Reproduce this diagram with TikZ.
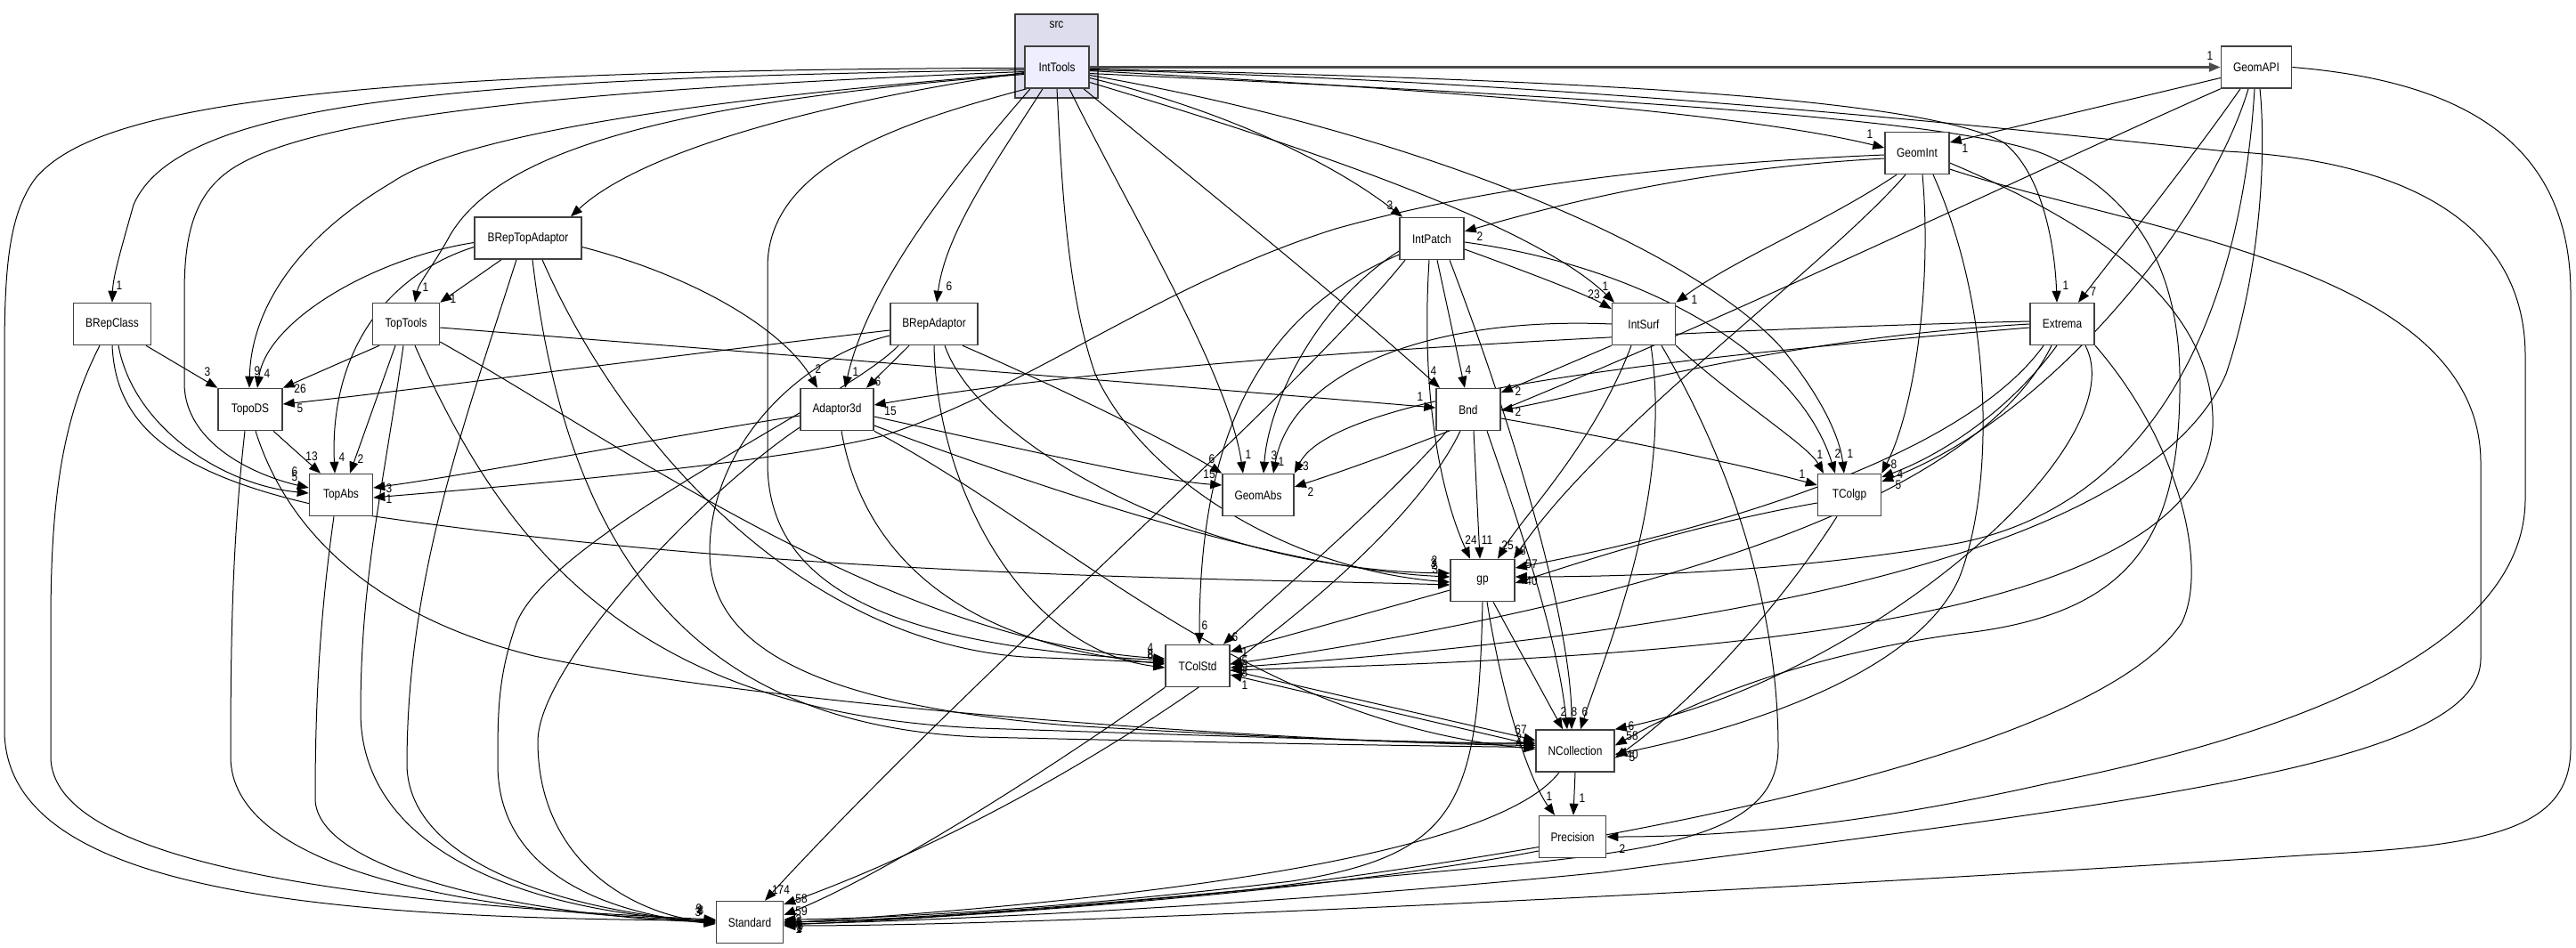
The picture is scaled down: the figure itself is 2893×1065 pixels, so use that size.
\documentclass[tikz,border=0pt]{standalone}
\usepackage{fontspec}
\newfontfamily\doxfam[FakeStretch=0.85]{Liberation Sans}
\usetikzlibrary{arrows.meta}
\pgfdeclarelayer{back}
\pgfdeclarelayer{bg}
\pgfsetlayers{back,bg,main}
\definecolor{boxc}{RGB}{64,64,64}
\definecolor{clusterfill}{RGB}{221,221,238}
\definecolor{itfill}{RGB}{238,238,255}
\tikzset{
 dbox/.style={draw=boxc, line width=1.5pt, fill=white, minimum height=47pt, inner sep=0pt, font=\doxfam\fontsize{14}{16}\selectfont},
 dep/.style={-{Triangle[length=13pt,width=10pt]}, line width=1pt},
 depb/.style={dep, line width=2.6pt, draw=black!70},
 lbl/.style={inner sep=0pt, font=\doxfam\fontsize{14}{16}\selectfont},
}
\begin{document}
\begin{tikzpicture}[x=1pt,y=-1pt]
\useasboundingbox (0,0) rectangle (2893,1065);
% nodes
\node[dbox, fill=itfill, minimum width=72pt] (IntTools) at (1187,75.5) {IntTools};
\node[dbox, minimum width=79pt] (GeomAPI) at (2534,75.5) {GeomAPI};
\node[dbox, minimum width=72pt] (GeomInt) at (2153,172) {GeomInt};
\node[dbox, minimum width=120pt] (BRepTopAdaptor) at (593,267.5) {BRepTopAdaptor};
\node[dbox, minimum width=72pt] (IntPatch) at (1608,268) {IntPatch};
\node[dbox, minimum width=87pt] (BRepClass) at (126,364) {BRepClass};
\node[dbox, minimum width=75pt] (TopTools) at (456,364) {TopTools};
\node[dbox, minimum width=98pt] (BRepAdaptor) at (1049,364) {BRepAdaptor};
\node[dbox, minimum width=71pt] (IntSurf) at (1846,364) {IntSurf};
\node[dbox, minimum width=72pt] (Extrema) at (2316,364) {Extrema};
\node[dbox, minimum width=72pt] (TopoDS) at (281,460) {TopoDS};
\node[dbox, minimum width=82pt] (Adaptor3d) at (940,460) {Adaptor3d};
\node[dbox, minimum width=72pt] (Bnd) at (1649,460) {Bnd};
\node[dbox, minimum width=71pt] (TopAbs) at (383,556) {TopAbs};
\node[dbox, minimum width=80pt] (GeomAbs) at (1413,556) {GeomAbs};
\node[dbox, minimum width=71pt] (TColgp) at (2077,556) {TColgp};
\node[dbox, minimum width=72pt] (gp) at (1665,652) {gp};
\node[dbox, minimum width=72pt] (TColStd) at (1345,748) {TColStd};
\node[dbox, minimum width=88pt] (NCollection) at (1769,843.5) {NCollection};
\node[dbox, minimum width=75pt] (Precision) at (1766,940) {Precision};
\node[dbox, minimum width=75pt] (Standard) at (842,1036) {Standard};
\begin{pgfonlayer}{back}
\fill[white] (0,0) rectangle (2893,1065);
\node[dbox, fill=clusterfill, minimum width=93pt, minimum height=94pt] (src) at (1186.5,63) {};
\node[lbl] (srctext) at (1186.5,28) {src};
\end{pgfonlayer}
\begin{pgfonlayer}{bg}
% ---- IntTools
\draw[depb] (IntTools.east) -- (GeomAPI.west) node[lbl] at (2482,63) {1};
\draw[dep] ([yshift=-4]IntTools.east) .. controls (1600,100) and (1950,125) .. ([yshift=6]GeomInt.west) node[lbl] at (2100,151) {1};
\draw[dep] ([yshift=-12]IntTools.east) .. controls (1380,125) and (1500,185) .. ([xshift=-33]IntPatch.north) node[lbl] at (1561,231) {3};
\draw[dep] ([yshift=-17]IntTools.east) .. controls (1450,160) and (1720,250) .. ([xshift=-33]IntSurf.north) node[lbl] at (1803,322) {1};
\draw[dep] ([yshift=-2]IntTools.east) .. controls (1700,88) and (2150,105) .. (2250,160) .. controls (2295,195) and (2308,280) .. ([xshift=-6]Extrema.north) node[lbl] at (2320,321) {1};
\draw[dep] ([xshift=30]IntTools.south) .. controls (1350,210) and (1500,330) .. ([xshift=-32]Bnd.north) node[lbl] at (1610,417) {4};
\draw[dep] ([xshift=-16]IntTools.south) .. controls (1120,180) and (1062,260) .. ([xshift=3]BRepAdaptor.north) node[lbl] at (1066,322) {6};
\draw[dep] ([xshift=-30]IntTools.south) .. controls (1070,200) and (975,320) .. ([xshift=9]Adaptor3d.north) node[lbl] at (961,418) {1};
\draw[dep] ([yshift=-6]IntTools.west) .. controls (920,115) and (720,170) .. ([xshift=48]BRepTopAdaptor.north);
\draw[dep] ([yshift=-8]IntTools.west) .. controls (750,115) and (560,170) .. (505,265) .. controls (487,298) and (470,318) .. ([xshift=10]TopTools.north) node[lbl] at (478,323) {1};
\draw[dep] ([yshift=-3]IntTools.west) .. controls (500,88) and (200,115) .. (150,230) .. controls (136,280) and (127,310) .. (BRepClass.north) node[lbl] at (134,321) {1};
\draw[dep] ([yshift=-1]IntTools.west) .. controls (300,78) and (100,130) .. (40,200) .. controls (10,240) and (5,300) .. (5,400) -- (5,820) .. controls (5,1000) and (350,1032) .. ([yshift=2]Standard.west) node[lbl] at (785,1021) {9};
\draw[dep] ([yshift=-5]IntTools.west) .. controls (650,100) and (350,130) .. (260,190) .. controls (215,220) and (207,270) .. (207,330) -- (207,430) .. controls (207,500) and (290,535) .. ([yshift=8]TopAbs.west) node[lbl] at (331,530) {6};
\draw[dep] ([yshift=-7]IntTools.west) .. controls (800,110) and (520,150) .. (440,205) .. controls (330,270) and (282,350) .. ([xshift=-1]TopoDS.north) node[lbl] at (289,417) {9};
\draw[dep] ([xshift=-34]IntTools.south) .. controls (1000,140) and (862,190) .. (862,300) -- (862,520) .. controls (862,660) and (1000,725) .. ([yshift=6]TColStd.west) node[lbl] at (1292,728) {4};
\draw[dep] (IntTools.south) .. controls (1192,200) and (1198,330) .. (1230,420) .. controls (1285,540) and (1450,640) .. ([yshift=-2]gp.west) node[lbl] at (1611,635) {2};
\draw[dep] ([xshift=14]IntTools.south) .. controls (1270,240) and (1380,420) .. ([xshift=-17]GeomAbs.north) node[lbl] at (1402,511) {1};
\draw[dep] ([yshift=-9]IntTools.east) .. controls (1600,150) and (1900,280) .. (2000,390) .. controls (2045,445) and (2066,490) .. ([xshift=-6]TColgp.north) node[lbl] at (2078,510) {1};
\draw[dep] ([yshift=-7]IntTools.east) .. controls (1700,105) and (2200,130) .. (2300,175) .. controls (2420,230) and (2446,330) .. (2448,420) .. controls (2450,600) and (2400,690) .. (2200,712) .. controls (2000,740) and (1880,800) .. ([yshift=6]NCollection.east) node[lbl] at (1833,827) {58};
\draw[dep] ([yshift=-3]IntTools.east) .. controls (1800,92) and (2300,150) .. (2500,170) .. controls (2700,180) and (2836,250) .. (2836,400) -- (2836,560) .. controls (2836,720) and (2600,820) .. (2300,880) .. controls (2100,925) and (1950,940) .. (Precision.east) node[lbl] at (1822,954) {2};
% ---- GeomAPI
\draw[dep] ([yshift=-12]GeomAPI.west) -- ([yshift=12]GeomInt.east) node[lbl] at (2207,167) {1};
\draw[dep] ([xshift=-18]GeomAPI.south) .. controls (2460,180) and (2380,280) .. ([xshift=18]Extrema.north) node[lbl] at (2351,328) {7};
\draw[dep] (GeomAPI.south west) .. controls (2200,230) and (1750,450) .. ([yshift=9]GeomAbs.east) node[lbl] at (1472,553) {2};
\draw[dep] ([xshift=-9]GeomAPI.south) .. controls (2480,250) and (2300,470) .. ([yshift=15]TColgp.east) node[lbl] at (2132,545) {5};
\draw[dep] ([xshift=-2]GeomAPI.south) .. controls (2520,300) and (2450,560) .. (2200,610) .. controls (2000,645) and (1800,648) .. ([yshift=4]gp.east);
\draw[dep] ([xshift=4]GeomAPI.south) .. controls (2545,170) and (2540,300) .. (2500,420) .. controls (2400,650) and (1800,720) .. ([yshift=-2]TColStd.east) node[lbl] at (1398,750) {9};
\draw[dep] (GeomAPI.east) .. controls (2750,90) and (2887,150) .. (2887,330) -- (2887,840) .. controls (2887,930) and (2800,950) .. (2600,960) .. controls (2000,1000) and (1200,1040) .. ([yshift=-4]Standard.east) node[lbl] at (897,1044) {1};
% ---- GeomInt
\draw[dep] ([yshift=-6]GeomInt.west) .. controls (1900,190) and (1750,230) .. ([yshift=8]IntPatch.east) node[lbl] at (1662,266) {2};
\draw[dep] ([yshift=-2]GeomInt.west) .. controls (1850,185) and (1650,215) .. (1500,257) .. controls (1300,320) and (1150,440) .. (990,490) .. controls (850,525) and (500,552) .. ([yshift=-3]TopAbs.east) node[lbl] at (437,561) {1};
\draw[dep] ([xshift=-23]GeomInt.south) .. controls (2050,250) and (1950,290) .. (IntSurf.north east) node[lbl] at (1903,337) {1};
\draw[dep] ([xshift=-13]GeomInt.south) .. controls (2050,300) and (1800,480) .. ([xshift=35]gp.north) node[lbl] at (1707,619) {18};
\draw[dep] ([xshift=6]GeomInt.south) .. controls (2170,320) and (2150,460) .. (TColgp.north east) node[lbl] at (2127,522) {8};
\draw[dep] ([xshift=18]GeomInt.south) .. controls (2240,350) and (2240,550) .. (2200,650) .. controls (2150,760) and (1950,820) .. ([yshift=-4]NCollection.east) node[lbl] at (1833,848) {40};
\draw[dep] ([yshift=-11]GeomInt.east) .. controls (2300,230) and (2490,320) .. (2485,480) .. controls (2470,720) and (1800,740) .. ([yshift=-5]TColStd.east) node[lbl] at (1398,756) {8};
\draw[dep] ([yshift=-18]GeomInt.east) .. controls (2400,260) and (2786,300) .. (2786,520) -- (2786,740) .. controls (2786,860) and (2400,900) .. (1800,980) .. controls (1400,1020) and (1000,1036) .. ([yshift=-2]Standard.east) node[lbl] at (898,1042) {3};
% ---- BRepTopAdaptor
\draw[dep] ([xshift=-30]BRepTopAdaptor.south) -- (TopTools.north east) node[lbl] at (509,336) {1};
\draw[dep] ([yshift=-5]BRepTopAdaptor.west) .. controls (420,290) and (300,360) .. ([xshift=8]TopoDS.north) node[lbl] at (300,420) {4};
\draw[dep] ([yshift=-10]BRepTopAdaptor.west) .. controls (430,310) and (370,400) .. ([xshift=-7]TopAbs.north) node[lbl] at (384,514) {4};
\draw[dep] ([yshift=-10]BRepTopAdaptor.east) .. controls (780,310) and (880,370) .. ([xshift=-22]Adaptor3d.north) node[lbl] at (919,415) {2};
\draw[dep] ([xshift=-13]BRepTopAdaptor.south) .. controls (520,480) and (457,650) .. (457,860) .. controls (460,990) and (700,1030) .. ([yshift=1]Standard.west);
\draw[dep] ([xshift=5]BRepTopAdaptor.south) .. controls (640,650) and (800,815) .. (1100,828) .. controls (1400,835) and (1600,838) .. ([yshift=4]NCollection.west);
\draw[dep] ([xshift=16]BRepTopAdaptor.south) .. controls (700,500) and (900,720) .. (1150,738) .. controls (1250,742) and (1290,744) .. ([yshift=4]TColStd.west) node[lbl] at (1292,736) {8};
% ---- BRepClass
\draw[dep] ([xshift=38]BRepClass.south) -- (TopoDS.north west) node[lbl] at (233,418) {3};
\draw[dep] ([xshift=7]BRepClass.south) .. controls (150,480) and (250,545) .. ([yshift=2]TopAbs.west) node[lbl] at (331,536) {5};
\draw[dep] (BRepClass.south) .. controls (130,470) and (180,540) .. (420,580) .. controls (900,650) and (1400,650) .. ([yshift=-5]gp.west) node[lbl] at (1612,640) {3};
\draw[dep] ([xshift=-14]BRepClass.south) .. controls (70,470) and (57,560) .. (57,700) -- (57,850) .. controls (57,970) and (400,1015) .. ([yshift=3]Standard.west) node[lbl] at (787,1023) {8};
% ---- TopTools
\draw[dep] ([xshift=-30]TopTools.south) -- (TopoDS.north east) node[lbl] at (337,437) {26};
\draw[dep] ([xshift=-12]TopTools.south) -- ([xshift=10]TopAbs.north) node[lbl] at (405,516) {2};
\draw[dep] ([yshift=-4]TopTools.east) .. controls (900,400) and (1400,440) .. ([yshift=2]Bnd.west) node[lbl] at (1595,446) {1};
\draw[dep] ([yshift=-20]TopTools.east) .. controls (700,500) and (1000,720) .. ([yshift=8]TColStd.west);
\draw[dep] ([xshift=10]TopTools.south) .. controls (560,600) and (700,800) .. (1100,818) .. controls (1400,828) and (1600,834) .. ([yshift=8]NCollection.west) node[lbl] at (1706,830) {2};
\draw[dep] ([xshift=-3]TopTools.south) .. controls (430,550) and (405,650) .. (405,800) .. controls (405,960) and (600,1025) .. ([yshift=1]Standard.west) node[lbl] at (786,1024) {4};
% ---- TopoDS
\draw[dep] ([xshift=26]TopoDS.south) -- ([xshift=-23]TopAbs.north) node[lbl] at (350,513) {13};
\draw[dep] ([xshift=-6]TopoDS.south) .. controls (262,600) and (259,700) .. (259,850) .. controls (259,970) and (500,1025) .. ([yshift=2]Standard.west) node[lbl] at (784,1025) {3};
\draw[dep] ([xshift=6]TopoDS.south) .. controls (330,620) and (450,700) .. (600,737) .. controls (900,800) and (1500,835) .. ([yshift=6]NCollection.west) node[lbl] at (1706,836) {4};
% ---- TopAbs
\draw[dep] ([xshift=-8]TopAbs.south) .. controls (358,700) and (354,800) .. (354,897) .. controls (354,980) and (600,1030) .. (Standard.west);
% ---- Adaptor3d
\draw[dep] ([yshift=-7]Adaptor3d.west) .. controls (750,490) and (550,530) .. ([yshift=8]TopAbs.east) node[lbl] at (437,549) {3};
\draw[dep] ([yshift=-8]Adaptor3d.east) .. controls (1150,505) and (1300,540) .. ([yshift=11]GeomAbs.west) node[lbl] at (1358,533) {15};
\draw[dep] ([yshift=-18]Adaptor3d.east) .. controls (1200,560) and (1450,640) .. ([yshift=4]gp.west) node[lbl] at (1610,633) {3};
\draw[dep] ([xshift=5]Adaptor3d.south) .. controls (965,600) and (1050,720) .. ([yshift=2]TColStd.west);
\draw[dep] ([yshift=-20]Adaptor3d.west) .. controls (780,560) and (604,750) .. (604,833) .. controls (604,960) and (700,1025) .. ([yshift=-1]Standard.west);
\draw[dep] (Adaptor3d.south east) .. controls (1200,600) and (1400,810) .. ([yshift=2]NCollection.west);
% ---- BRepAdaptor
\draw[dep] ([yshift=-7]BRepAdaptor.west) .. controls (750,400) and (450,440) .. ([yshift=6]TopoDS.east) node[lbl] at (337,459) {5};
\draw[dep] ([xshift=-28]BRepAdaptor.south) -- ([xshift=33]Adaptor3d.north) node[lbl] at (986,429) {6};
\draw[dep] ([xshift=32]BRepAdaptor.south) .. controls (1200,440) and (1320,500) .. (GeomAbs.north west) node[lbl] at (1361,516) {6};
\draw[dep] ([xshift=12]BRepAdaptor.south) .. controls (1100,500) and (1350,640) .. ([yshift=8]gp.west) node[lbl] at (1611,630) {2};
\draw[dep] (BRepAdaptor.south) .. controls (1052,550) and (1150,730) .. ([yshift=-2]TColStd.west) node[lbl] at (1292,735) {8};
\draw[dep] ([yshift=-13]BRepAdaptor.west) .. controls (900,400) and (797,500) .. (797,620) .. controls (797,720) and (900,790) .. (1200,815) .. controls (1450,830) and (1650,838) .. ([yshift=10]NCollection.west);
\draw[dep] ([xshift=-40]BRepAdaptor.south) .. controls (950,450) and (620,600) .. (580,700) .. controls (559,760) and (559,800) .. (559,860) .. controls (560,990) and (700,1028) .. ([yshift=-2]Standard.west);
% ---- IntPatch
\draw[dep] ([yshift=-12]IntPatch.east) .. controls (1700,300) and (1780,330) .. ([yshift=17]IntSurf.west) node[lbl] at (1790,331) {23};
\draw[dep] ([xshift=6]IntPatch.south) -- ([xshift=-4]Bnd.north) node[lbl] at (1649,416) {4};
\draw[dep] ([yshift=-14]IntPatch.west) .. controls (1480,340) and (1425,450) .. ([xshift=6]GeomAbs.north) node[lbl] at (1431,512) {3};
\draw[dep] ([yshift=-4]IntPatch.east) .. controls (1850,300) and (2020,400) .. ([xshift=-16]TColgp.north) node[lbl] at (2064,510) {2};
\draw[dep] ([xshift=-3]IntPatch.south) .. controls (1595,450) and (1620,560) .. ([xshift=-14]gp.north) node[lbl] at (1652,607) {24};
\draw[dep] ([yshift=-18]IntPatch.west) .. controls (1420,350) and (1347,480) .. ([xshift=2]TColStd.north) node[lbl] at (1353,703) {6};
\draw[dep] ([xshift=20]IntPatch.south) .. controls (1700,480) and (1765,700) .. ([xshift=-4]NCollection.north) node[lbl] at (1768,800) {8};
\draw[dep] ([xshift=-30]IntPatch.south) .. controls (1450,450) and (1100,750) .. ([xshift=17]Standard.north) node[lbl] at (877,1000) {174};
% ---- IntSurf
\draw[dep] (IntSurf.south west) -- ([yshift=19]Bnd.east) node[lbl] at (1705,440) {2};
\draw[dep] (IntSurf.west) .. controls (1600,355) and (1450,420) .. ([xshift=17]GeomAbs.north) node[lbl] at (1439,519) {1};
\draw[dep] (IntSurf.south east) .. controls (1950,450) and (2030,500) .. ([xshift=-29]TColgp.north) node[lbl] at (2044,511) {1};
\draw[dep] ([xshift=-14]IntSurf.south) .. controls (1790,500) and (1710,580) .. ([xshift=17]gp.north) node[lbl] at (1693,613) {25};
\draw[dep] ([xshift=8]IntSurf.south) .. controls (1880,560) and (1800,740) .. ([xshift=6]NCollection.north) node[lbl] at (1780,800) {6};
\draw[dep] ([xshift=20]IntSurf.south) .. controls (1990,600) and (1997,780) .. (1997,840) .. controls (1997,960) and (1800,960) .. (1500,990) .. controls (1200,1020) and (1000,1034) .. (Standard.east) node[lbl] at (897,1039) {8};
% ---- Extrema
\draw[dep] ([yshift=3]Extrema.west) .. controls (1900,370) and (1300,400) .. ([yshift=5]Adaptor3d.east) node[lbl] at (1000,462) {15};
\draw[dep] (Extrema.west) .. controls (2000,380) and (1800,440) .. ([yshift=-1]Bnd.east) node[lbl] at (1705,463) {2};
\draw[dep] ([yshift=-4]Extrema.west) .. controls (1900,400) and (1500,440) .. (GeomAbs.north east) node[lbl] at (1463,524) {13};
\draw[dep] ([xshift=-6]Extrema.south) .. controls (2250,470) and (2170,515) .. ([yshift=20]TColgp.east) node[lbl] at (2134,533) {4};
\draw[dep] ([xshift=-21]Extrema.south) .. controls (2200,520) and (1900,600) .. ([yshift=14]gp.east) node[lbl] at (1720,634) {57};
\draw[dep] ([xshift=-12]Extrema.south) .. controls (2200,600) and (1700,700) .. ([yshift=2]TColStd.east) node[lbl] at (1398,743) {5};
\draw[dep] ([xshift=26]Extrema.south) .. controls (2400,500) and (2100,760) .. (NCollection.north east) node[lbl] at (1832,816) {6};
\draw[dep] ([xshift=37]Extrema.south) .. controls (2450,500) and (2480,640) .. (2450,700) .. controls (2350,850) and (1800,950) .. (1400,1000) .. controls (1100,1030) and (950,1036) .. ([yshift=1]Standard.east) node[lbl] at (898,1036) {5};
% ---- Bnd
\draw[dep] ([yshift=-10]Bnd.east) .. controls (1800,490) and (1950,520) .. ([yshift=11]TColgp.west) node[lbl] at (2024,533) {1};
\draw[dep] ([xshift=6]Bnd.south) -- ([xshift=-3]gp.north) node[lbl] at (1670,607) {11};
\draw[dep] ([xshift=-24]Bnd.south) .. controls (1560,560) and (1420,680) .. ([xshift=29]TColStd.north) node[lbl] at (1387,716) {6};
\draw[dep] ([xshift=21]Bnd.south) .. controls (1710,600) and (1750,720) .. ([xshift=-9]NCollection.north);
\draw[dep] ([xshift=-9]Bnd.south) .. controls (1560,650) and (1200,900) .. ([yshift=20]Standard.east) node[lbl] at (900,1010) {58};
% ---- TColgp
\draw[dep] ([yshift=-9]TColgp.west) .. controls (1900,590) and (1780,630) .. ([yshift=-3]gp.east) node[lbl] at (1720,653) {40};
\draw[dep] ([xshift=-14]TColgp.south) .. controls (2000,680) and (1900,790) .. ([yshift=-8]NCollection.east) node[lbl] at (1833,851) {5};
% ---- gp
\draw[dep] ([yshift=-11]gp.west) -- ([yshift=16]TColStd.east) node[lbl] at (1398,733) {1};
\draw[dep] ([xshift=12]gp.south) -- ([xshift=-14]NCollection.north) node[lbl] at (1756,800) {2};
\draw[dep] ([xshift=5]gp.south) .. controls (1690,800) and (1720,880) .. ([xshift=-20]Precision.north) node[lbl] at (1740,895) {1};
\draw[dep] (gp.south) .. controls (1660,900) and (1640,960) .. (1450,990) .. controls (1200,1020) and (1000,1032) .. ([yshift=3]Standard.east) node[lbl] at (897,1033) {3};
% ---- TColStd, NCollection, Precision
\draw[dep] ([yshift=-5]TColStd.east) -- ([yshift=12]NCollection.west) node[lbl] at (1708,820) {67};
\draw[dep] ([yshift=6]NCollection.west) -- ([yshift=-10]TColStd.east) node[lbl] at (1398,770) {1};
\draw[dep] (TColStd.south west) .. controls (1200,850) and (1000,980) .. ([yshift=8]Standard.east) node[lbl] at (900,1024) {59};
\draw[dep] (NCollection.south) -- ([xshift=1]Precision.north) node[lbl] at (1777,897) {1};
\draw[dep] ([xshift=-18]NCollection.south) .. controls (1680,960) and (1300,1010) .. ([yshift=-1]Standard.east) node[lbl] at (899,1040) {6};
\draw[dep] ([yshift=-16]Precision.west) .. controls (1500,1000) and (1100,1030) .. ([yshift=-3]Standard.east) node[lbl] at (898,1043) {1};
\end{pgfonlayer}
\end{tikzpicture}
\end{document}
